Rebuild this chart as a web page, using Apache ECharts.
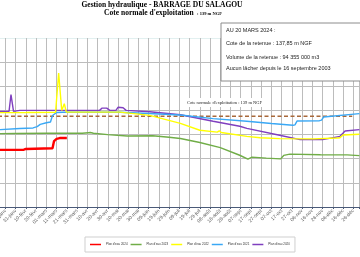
<!DOCTYPE html>
<html>
<head>
<meta charset="utf-8">
<script src="https://cdn.jsdelivr.net/npm/echarts@6/dist/echarts.min.js"></script>
<style>
html,body{margin:0;padding:0;background:#fff;}
#c{width:360px;height:257px;}
</style>
</head>
<body>
<div id="c"></div>
<script>
// Tick labels (every 10 days from 1 January, leap year)
const tickLabels = ['01-janv','11-janv','21-janv','31-janv','10-févr','20-févr','01-mars','11-mars','21-mars','31-mars',
  '10-avr','20-avr','30-avr','10-mai','20-mai','30-mai','09-juin','19-juin','29-juin','09-juil','19-juil','29-juil',
  '08-août','18-août','28-août','07-sept','17-sept','27-sept','07-oct','17-oct','27-oct','06-nov','16-nov','26-nov',
  '06-déc','16-déc','26-déc'];

const seriesNames = ["Plan d'eau 2024","Plan d'eau 2023","Plan d'eau 2022","Plan d'eau 2021","Plan d'eau 2020"];

// [day of year, level in m NGF]
const level2024 = [[0,137.24],[38,137.25],[40,137.29],[66,137.33],[67.5,137.70],[70,137.82],[73,137.86],[80,137.86]];
const level2023 = [[0,138.09],[30,138.10],[60,138.11],[95,138.11],[101,138.14],[103,138.15],[106,138.11],[120,138.04],
  [139,137.97],[164,137.98],[180,137.90],[191,137.84],[210,137.63],[230,137.36],[249,136.96],[257,136.76],[261,136.86],
  [275,136.81],[289,136.77],[290.5,136.76],[292,136.95],[298,137.02],[328,136.99],[354,136.98],[366,136.94]];
const level2022 = [[0,139.19],[40,139.20],[69,139.21],[72,141.27],[75,139.30],[77.5,139.66],[79.5,139.22],[100,139.22],
  [132,139.22],[161,139.05],[191,138.63],[210,138.27],[227,138.17],[229,138.24],[231,138.15],[256,137.95],[269,137.88],
  [288,137.83],[321,137.82],[344,137.86],[347,137.88],[350,138.02],[366,138.06]];
const level2021 = [[0,138.30],[15,138.30],[34,138.36],[47,138.39],[51,138.46],[54,138.58],[60,138.66],[64,138.70],
  [66,139.04],[70,139.20],[76,139.21],[100,139.22],[132,139.21],[160,139.15],[191,139.07],[223,138.88],[256,138.74],
  [280,138.62],[301,138.53],[303,138.55],[305,138.75],[327,138.77],[329,138.80],[331,138.96],[366,139.14]];
const level2020 = [[0,139.26],[23.5,139.26],[25.4,140.14],[27.9,139.26],[34,139.31],[60,139.31],[112,139.31],
  [114.5,139.43],[119,139.43],[122,139.31],[128,139.31],[130,139.47],[135,139.45],[138,139.31],[161,139.24],
  [191,139.08],[223,138.74],[249,138.48],[256,138.37],[288,138.01],[308,137.78],[330,137.78],[347,137.95],
  [352,138.23],[366,138.30]];
const coteNormale = [[0,139],[359,139]];

const colors = ['#ff0000','#70ad47','#ffff00','#3aa8f5','#7f3fbf'];
const allLevels = [level2024, level2023, level2022, level2021, level2020];

const chart = echarts.init(document.getElementById('c'), null, {renderer:'canvas'});

const series = allLevels.map((d,i)=>({
  name: seriesNames[i], type:'line', yAxisIndex:1, data:d, symbol:'none',
  lineStyle:{color:colors[i], width: i===0 ? 2.4 : 1.4}, itemStyle:{color:colors[i]},
  z: 10 - i, animation:false
}));
series.push({
  name:'cote', type:'line', yAxisIndex:1, data:coteNormale, symbol:'none',
  lineStyle:{color:'#a8683a', width:1.5, type:[4,2.5]}, z:5, animation:false
});

chart.setOption({
  animation:false,
  grid:{left:-15, top:38, width:374.4, height:169, containLabel:false, outerBoundsMode:'none'},
  xAxis:{
    type:'value', min:0, max:366, interval:10,
    axisLine:{lineStyle:{color:'#4a5a78', width:1}},
    axisTick:{show:true, length:2, lineStyle:{color:'#4a5a78'}},
    axisLabel:{rotate:45, fontSize:5, color:'#5a5a5a', margin:3, fontFamily:'Liberation Sans', hideOverlap:false,
      formatter:(v)=> (v % 10 === 0 && tickLabels[v/10]) ? tickLabels[v/10] : ''},
    splitLine:{show:true, lineStyle:{color:'#bcbcbc', width:1}}
  },
  yAxis:[
    {type:'value', min:0, max:7, interval:1, axisLabel:{show:false}, axisLine:{show:false}, axisTick:{show:false},
     splitLine:{show:true, lineStyle:{color:['#bcbcbc','#bcbcbc','#bcbcbc','#bcbcbc','#bcbcbc','#bcbcbc','#bcbcbc','#e2f0f0'], width:1}}},
    {type:'value', min:134.25, max:143.1, show:false, splitLine:{show:false}}
  ],
  legend:{
    data: seriesNames.map(n=>({name:n, icon:'rect'})),
    left:85, top:237, itemWidth:11, itemHeight:1.5, itemGap:3,
    padding:[6,5,6,5], borderColor:'#cfcfcf', borderWidth:1, backgroundColor:'#fff',
    textStyle:{fontSize:3, color:'#333', fontFamily:'Liberation Sans'}
  },
  series: series,
  graphic:[
    {type:'text', x:162, y:5, z:100, style:{text:'Gestion hydraulique - BARRAGE DU SALAGOU', textAlign:'center', textVerticalAlign:'middle',
      font:'bold 7.5px "Liberation Serif"', fill:'#000'}},
    {type:'text', x:163, y:13.5, z:100, style:{text:"{a|Cote normale d'exploitation} {b|: 139 m NGF}", textAlign:'center', textVerticalAlign:'middle',
      rich:{a:{font:'bold 7.5px "Liberation Serif"', fill:'#000'}, b:{font:'bold 4.5px "Liberation Serif"', fill:'#000'}}}},
    {type:'rect', z:100, shape:{x:221, y:23, width:145, height:58}, style:{fill:'#fff', stroke:'#8c8c8c', lineWidth:1}},
    {type:'text', x:226, y:30, z:101, style:{text:'AU 20 MARS 2024 :', textVerticalAlign:'middle', font:'5.5px "Liberation Sans"', fill:'#222'}},
    {type:'text', x:226, y:43.5, z:101, style:{text:'Cote de la retenue : 137,85 m NGF', textVerticalAlign:'middle', font:'5.5px "Liberation Sans"', fill:'#222'}},
    {type:'text', x:226, y:57, z:101, style:{text:'Volume de la retenue : 94 355 000 m3', textVerticalAlign:'middle', font:'5.5px "Liberation Sans"', fill:'#222'}},
    {type:'text', x:226, y:68.5, z:101, style:{text:'Aucun lâcher depuis le 16 septembre 2003', textVerticalAlign:'middle', font:'5.5px "Liberation Sans"', fill:'#222'}},
    {type:'text', x:185, y:102.5, z:100, style:{text:"Cote normale d'exploitation : 139 m NGF", textVerticalAlign:'middle', font:'4.5px "Liberation Serif"', fill:'#222',
      backgroundColor:'#fff', padding:[2,2]}}
  ]
});
</script>
</body>
</html>
